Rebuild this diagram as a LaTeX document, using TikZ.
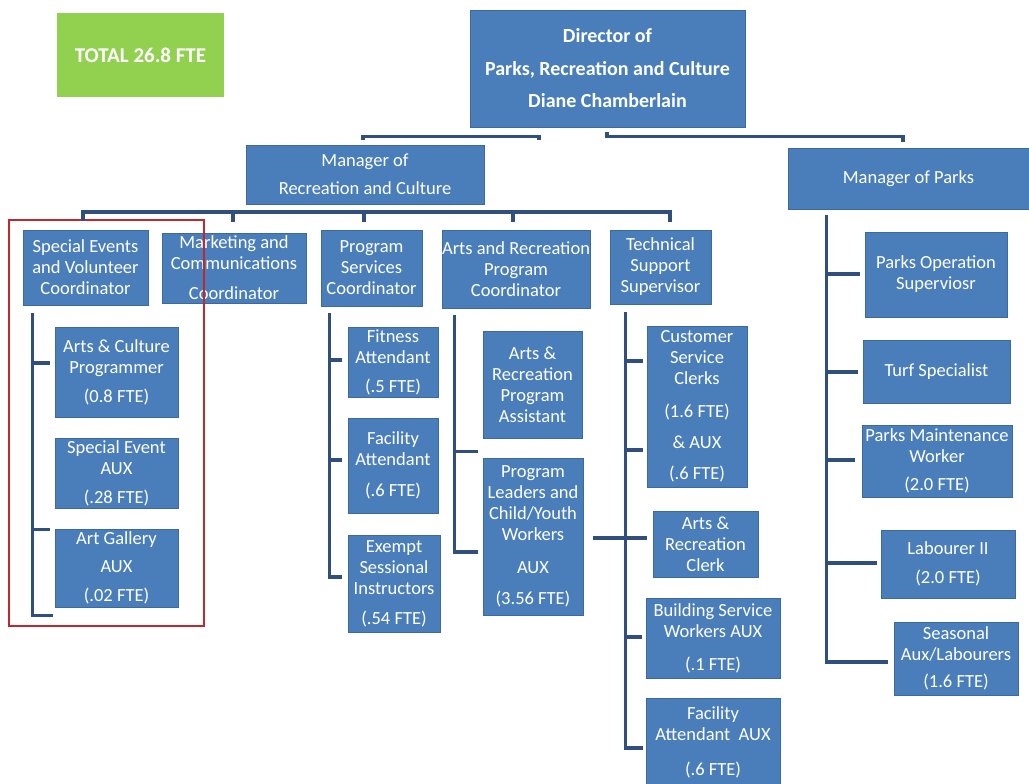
\documentclass[tikz,border=0pt]{standalone}
\usepackage{fontspec}
\setmainfont{Carlito}
\usetikzlibrary{calc}
\definecolor{boxblue}{HTML}{4A7EBB}
\definecolor{boxedge}{HTML}{3D6A9E}
\definecolor{linecol}{HTML}{304E7E}
\definecolor{totgreen}{HTML}{92D050}
\definecolor{hlred}{HTML}{C0282D}
\tikzset{
  box/.style={draw=boxedge, fill=boxblue, text=white, align=center, inner sep=0pt, line width=0.8pt, font=\fontsize{18.5}{21}\selectfont},
  conn/.style={draw=linecol, line width=3.3pt},
  hlbox/.style={draw=hlred, line width=2.5pt, inner sep=0pt}
}
\begin{document}
\begin{tikzpicture}[x=1pt,y=-1pt]
\useasboundingbox[fill=white] (0,0) rectangle (1029,784);

% top level
\node[box, draw=none, fill=totgreen, minimum width=167pt, minimum height=84pt, font=\fontsize{21}{24}\selectfont\bfseries] (tot) at (140.5,55) {TOTAL 26.8 FTE};
\node[box, minimum width=275pt, minimum height=117pt, font=\fontsize{20}{22}\selectfont\bfseries] (dir) at (607.5,68.5) {Director of\\[11pt]Parks, Recreation and Culture\\[10pt]Diane Chamberlain};
\node[box, minimum width=238pt, minimum height=59pt] (mrc) at (365,174.5) {Manager of\\[7pt]Recreation and Culture};
\node[box, minimum width=241pt, minimum height=61pt] (mp) at (908.5,178.5) {Manager of Parks};

% level 3
\node[box, minimum width=125pt, minimum height=75pt] (se) at (85.5,267.5) {Special Events\\and Volunteer\\Coordinator};
\node[box, minimum width=144pt, minimum height=70pt] (mk) at (234,268) {Marketing and\\Communications\\[9pt]Coordinator};
\node[box, minimum width=101pt, minimum height=76pt] (ps) at (371.5,268) {Program\\Services\\Coordinator};
\node[box, minimum width=148pt, minimum height=78pt] (arc) at (516,269) {Arts and Recreation\\Program\\Coordinator};
\node[box, minimum width=101pt, minimum height=74pt] (ts) at (660.5,267) {Technical\\Support\\Supervisor};

% special events column
\node[box, minimum width=123pt, minimum height=90pt] (ac) at (116.5,372) {Arts \& Culture\\Programmer\\[8pt](0.8 FTE)};
\node[box, minimum width=123pt, minimum height=70pt] (sea) at (116.5,473) {Special Event\\AUX\\[8pt](.28 FTE)};
\node[box, minimum width=123pt, minimum height=78pt] (ag) at (116.5,568) {Art Gallery\\[7pt]AUX\\[8pt](.02 FTE)};

% program services column
\node[box, minimum width=90pt, minimum height=70pt] (fa) at (393,362) {Fitness\\Attendant\\[8pt](.5 FTE)};
\node[box, minimum width=90pt, minimum height=95pt] (fac) at (393,465.5) {Facility\\Attendant\\[10pt](.6 FTE)};
\node[box, minimum width=92pt, minimum height=97pt] (esi) at (394,583.5) {Exempt\\Sessional\\Instructors\\[9pt](.54 FTE)};

% arts and recreation column
\node[box, minimum width=99pt, minimum height=107pt] (ara) at (532.5,384.5) {Arts \&\\Recreation\\Program\\Assistant};
\node[box, minimum width=100pt, minimum height=157pt] (pl) at (533,536.5) {Program\\Leaders and\\Child/Youth\\Workers\\[12pt]AUX\\[10pt](3.56 FTE)};

% technical support column
\node[box, minimum width=100pt, minimum height=161pt] (csc) at (697,406.5) {Customer\\Service\\Clerks\\[12pt](1.6 FTE)\\[10pt]\& AUX\\[10pt](.6 FTE)};
\node[box, minimum width=105pt, minimum height=66pt] (arcl) at (705.5,544) {Arts \&\\Recreation\\Clerk};
\node[box, minimum width=134pt, minimum height=80pt] (bsw) at (713,638) {Building Service\\Workers AUX\\[12pt](.1 FTE)};
\node[box, minimum width=134pt, minimum height=88pt] (faa) at (713,742) {Facility\\Attendant~~AUX\\[14pt](.6 FTE)};

% parks column
\node[box, minimum width=142pt, minimum height=85pt] (pos) at (936,274.5) {Parks Operation\\Superviosr};
\node[box, minimum width=147pt, minimum height=63pt] (tsp) at (936.5,371.5) {Turf Specialist};
\node[box, minimum width=150pt, minimum height=72pt] (pmw) at (937,461) {Parks Maintenance\\Worker\\[7pt](2.0 FTE)};
\node[box, minimum width=134pt, minimum height=68pt] (lab) at (948,564) {Labourer II\\[8pt](2.0 FTE)};
\node[box, minimum width=124pt, minimum height=73pt] (sal) at (956,658.5) {Seasonal\\Aux/Labourers\\[6pt](1.6 FTE)};

% highlight
\node[hlbox, minimum width=195pt, minimum height=406pt] (hl) at (106.5,423) {};

% director connectors
\draw[conn] ($(mrc.north)+(-2,-5)$) |- ($(dir.south)+(-68.5,9)$) -- ++(0,4);
\draw[conn] ($(dir.south)+(-0.5,5)$) |- ($(mp.north)+(-5.5,-11)$) -- ++(0,5);

% manager of recreation bar
\coordinate (barL) at (83,212);
\coordinate (barR) at (670,212);
\draw[conn] ($(barL |- se.north)+(0,-9)$) -- (barL) -- (barR) -- ($(barR |- ts.north)+(0,-8)$);
\draw[conn] (barL -| mk.north) ++(-1,0) -- ++(0,10);
\draw[conn] (barL -| ps.north) ++(-7.5,0) -- ++(0,10);
\draw[conn] (barL -| arc.north) ++(-3,0) -- ++(0,10);

% special events column
\draw[conn] ($(se.south west)+(10,8)$) |- ($(ag.south west)+(-2,8)$);
\draw[conn] ($(ac.west)+(-22,-9)$) -- ++(17,0);
\draw[conn] ($(ag.north west)+(-22,1)$) -- ++(17,0);

% program services column
\draw[conn] ($(ps.south west)+(9,7)$) |- ($(esi.west)+(-6,-6.5)$);
\draw[conn] ($(fa.west)+(-18,-2)$) -- ++(12,0);
\draw[conn] ($(fac.west)+(-18,-5.5)$) -- ++(12,0);

% arts and recreation column
\draw[conn] ($(arc.south west)+(13,7)$) |- ($(pl.west)+(-5,15.5)$);
\draw[conn] ($(pl.north west)+(-28,-6)$) -- ++(23,0);
\draw[conn] ($(pl.east)+(10,1.5)$) -- ($(arcl.west)+(-6,-6)$);

% technical support column
\draw[conn] ($(ts.south west)+(16,8)$) |- ($(faa.west)+(-3,6)$);
\draw[conn] ($(csc.west)+(-21,-45.5)$) -- ++(17,0);
\draw[conn] ($(csc.west)+(-21,43.5)$) -- ++(17,0);
\draw[conn] ($(bsw.west)+(-20,-1)$) -- ++(16,0);

% parks column
\draw[conn] ($(mp.south west)+(39,6)$) |- ($(sal.west)+(-6,3.5)$);
\draw[conn] ($(pos.west)+(-38,-0.5)$) -- ++(33,0);
\draw[conn] ($(tsp.west)+(-36,0.5)$) -- ++(31,0);
\draw[conn] ($(pmw.west)+(-35,-1)$) -- ++(28,0);
\draw[conn] ($(lab.west)+(-54,-1)$) -- ++(50,0);
\end{tikzpicture}
\end{document}
